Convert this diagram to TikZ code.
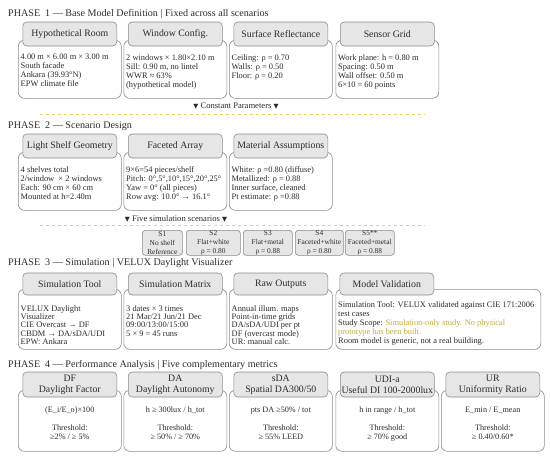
\documentclass[tikz,border=0pt]{standalone}
\usepackage{fontspec}
\usepackage{xcolor}
\setmainfont{Liberation Serif}
\newfontfamily\symfont{DejaVu Sans}
\definecolor{framegray}{HTML}{8A8A8A}
\definecolor{headgray}{HTML}{E6E6E6}
\definecolor{inkgray}{HTML}{2B2B2B}
\definecolor{scopegold}{HTML}{C2AE3A}
\definecolor{dashyellow}{HTML}{E8D46A}
\newcommand{\tri}
        {{\symfont\fontsize{6.5}{7}\selectfont ▼}}

\tikzset{
  bodybox/.style={draw=framegray, line width=0.6pt, fill=white, rounded corners=6pt, anchor=north west, minimum width=103pt, minimum height=58pt, inner sep=0pt},
  headbox/.style={draw=framegray, line width=0.6pt, fill=headgray, rounded corners=4pt, minimum width=94pt, minimum height=24pt, inner sep=0pt, align=center, text=inkgray, font=\fontsize{9.8}{11}\selectfont},
  bodytext/.style={anchor=north west, inner sep=0pt, align=left, text=inkgray, font=\fontsize{8.4}{9}\selectfont},
  metrictext/.style={anchor=north, inner sep=0pt, align=center, text=inkgray, font=\fontsize{8.2}{9}\selectfont},
  phasetitle/.style={anchor=west, inner sep=0pt, text=inkgray, font=\fontsize{10.1}{11}\selectfont},
  scenbox/.style={draw=framegray, line width=0.6pt, fill=headgray, rounded corners=3pt, anchor=north west, minimum height=25pt, inner sep=0pt, align=center, text=inkgray, font=\fontsize{7.4}{8.8}\selectfont},
  sepnote/.style={inner sep=0pt, text=inkgray, font=\fontsize{8.6}{9}\selectfont},
  sepline/.style={draw=dashyellow, dashed, line width=0.6pt},
}

\begin{document}
\begin{tikzpicture}[x=1pt, y=-1pt]
\useasboundingbox (0,0) rectangle (550,458);

\node[phasetitle] (p1) at (8,14) {PHASE\ \ 1 --- Base Model Definition | Fixed across all scenarios};
\node[bodybox] (room) at (18,40) {};
\node[headbox] (roomh) at ([yshift=6pt]room.north) {Hypothetical Room};
\node[bodytext] (roomt) at ([xshift=2.5pt,yshift=-14pt]room.north west) {4.00 m × 6.00 m × 3.00 m\\South facade\\Ankara (39.93°N)\\EPW climate file};
\node[bodybox] (window) at (123.5,40) {};
\node[headbox] (windowh) at ([yshift=6pt]window.north) {Window Config.};
\node[bodytext] (windowt) at ([xshift=2.5pt,yshift=-14pt]window.north west) {2 windows × 1.80×2.10 m\\Sill: 0.90 m, no lintel\\WWR ≈ 63\%\\(hypothetical model)};
\node[bodybox] (surface) at (229,40) {};
\node[headbox] (surfaceh) at ([yshift=6pt]surface.north) {Surface Reflectance};
\node[bodytext] (surfacet) at ([xshift=2.5pt,yshift=-14pt]surface.north west) {Ceiling: ρ = 0.70\\Walls: ρ = 0.50\\Floor: ρ = 0.20};
\node[bodybox] (sensor) at (335.5,40) {};
\node[headbox] (sensorh) at ([yshift=6pt]sensor.north) {Sensor Grid};
\node[bodytext] (sensort) at ([xshift=2.5pt,yshift=-14pt]sensor.north west) {Work plane: h = 0.80 m\\Spacing: 0.50 m\\Wall offset: 0.50 m\\6×10 = 60 points};

\node[sepnote] (constant) at (236,106) {\tri\ Constant Parameters \tri};
\coordinate (sep1l) at (40,114);
\coordinate (sep1r) at (425,114);
\draw[sepline] (sep1l) -- (sep1r);

\node[phasetitle] (p2) at (8,126) {PHASE\ \ 2 --- Scenario Design};
\node[bodybox] (shelf) at (18,152) {};
\node[headbox] (shelfh) at ([yshift=6pt]shelf.north) {Light Shelf Geometry};
\node[bodytext] (shelft) at ([xshift=2.5pt,yshift=-14pt]shelf.north west) {4 shelves total\\2/window \ × 2 windows\\Each: 90 cm × 60 cm\\Mounted at h=2.40m};
\node[bodybox] (facet) at (123.5,152) {};
\node[headbox] (faceth) at ([yshift=6pt]facet.north) {Faceted Array};
\node[bodytext] (facett) at ([xshift=2.5pt,yshift=-14pt]facet.north west) {9×6=54 pieces/shelf\\Pitch: 0°,5°,10°,15°,20°,25°\\Yaw = 0° (all pieces)\\Row avg: 10.0° → 16.1°};
\node[bodybox] (material) at (229,152) {};
\node[headbox] (materialh) at ([yshift=6pt]material.north) {Material Assumptions};
\node[bodytext] (materialt) at ([xshift=2.5pt,yshift=-14pt]material.north west) {White: ρ =0.80 (diffuse)\\Metallized: ρ = 0.88\\Inner surface, cleaned\\Pt estimate: ρ =0.88};

\node[sepnote] (five) at (176,219) {\tri\ Five simulation scenarios \tri};
\coordinate (sep2l) at (40,225);
\coordinate (sep2r) at (425,225);
\draw[sepline] (sep2l) -- (sep2r);

\node[scenbox, minimum width=40pt] (scen1) at (142,230) {S1\\No shelf\\Reference};
\node[scenbox, minimum width=54pt] (scen2) at (186,230) {S2\\Flat+white\\ρ = 0.80};
\node[scenbox, minimum width=49pt] (scen3) at (243,230) {S3\\Flat+metal\\ρ = 0.88};
\node[scenbox, minimum width=48pt] (scen4) at (295,230) {S4\\Faceted+white\\ρ = 0.80};
\node[scenbox, minimum width=49pt] (scen5) at (345,230) {S5**\\Faceted+metal\\ρ = 0.88};

\node[phasetitle] (p3) at (8,263) {PHASE\ \ 3 --- Simulation | VELUX Daylight Visualizer};
\node[bodybox, minimum height=60pt] (simtool) at (18,289) {};
\node[headbox, minimum height=22pt] (simtoolh) at ([yshift=5pt]simtool.north) {Simulation Tool};
\node[bodytext, font=\fontsize{8.4}{8.4}\selectfont] (simtoolt) at ([xshift=2.5pt,yshift=-16pt]simtool.north west) {VELUX Daylight\\Visualizer\\CIE Overcast → DF\\CBDM → DA/sDA/UDI\\EPW: Ankara};
\node[bodybox, minimum height=60pt] (simmatrix) at (123.5,289) {};
\node[headbox, minimum height=22pt] (simmatrixh) at ([yshift=5pt]simmatrix.north) {Simulation Matrix};
\node[bodytext, font=\fontsize{8.4}{8.4}\selectfont] (simmatrixt) at ([xshift=2.5pt,yshift=-16pt]simmatrix.north west) {3 dates × 3 times\\21 Mar/21 Jun/21 Dec\\09:00/13:00/15:00\\5 × 9 = 45 runs};
\node[bodybox, minimum height=60pt] (rawout) at (229,289) {};
\node[headbox, minimum height=22pt] (rawouth) at ([yshift=5pt]rawout.north) {Raw Outputs};
\node[bodytext, font=\fontsize{8.4}{8.4}\selectfont] (rawoutt) at ([xshift=2.5pt,yshift=-16pt]rawout.north west) {Annual illum. maps\\Point-in-time grids\\DA/sDA/UDI per pt\\DF (overcast mode)\\UR: manual calc.};
\node[bodybox, minimum height=60pt, minimum width=205pt] (valid) at (335.5,289) {};
\node[headbox, minimum height=22pt] (validh) at ([xshift=-51.5pt,yshift=5pt]valid.north) {Model Validation};
\node[bodytext] (validt) at ([xshift=2.5pt,yshift=-12pt]valid.north west) {Simulation Tool: VELUX validated against CIE 171:2006\\test cases\\Study Scope: \textcolor{scopegold}{Simulation-only study. No physical}\\\textcolor{scopegold}{prototype has been built.}\\Room model is generic, not a real building.};

\node[phasetitle] (p4) at (8,365) {PHASE\ \ 4 --- Performance Analysis | Five complementary metrics};
\node[bodybox, minimum height=61pt] (df) at (18,390) {};
\node[headbox, minimum height=25pt] (dfh) at ([yshift=5.5pt]df.north) {DF\\Daylight Factor};
\node[metrictext] (dft) at ([yshift=-17pt]df.north) {(E\_i/E\_o)×100\\[9pt]Threshold:\\≥2\% / ≥ 5\%};
\node[bodybox, minimum height=61pt] (da) at (123.5,390) {};
\node[headbox, minimum height=25pt] (dah) at ([yshift=5.5pt]da.north) {DA\\Daylight Autonomy};
\node[metrictext] (dat) at ([yshift=-17pt]da.north) {h ≥ 300lux / h\_tot\\[9pt]Threshold:\\≥ 50\% / ≥ 70\%};
\node[bodybox, minimum height=61pt] (sda) at (229,390) {};
\node[headbox, minimum height=25pt] (sdah) at ([yshift=5.5pt]sda.north) {sDA\\Spatial DA300/50};
\node[metrictext] (sdat) at ([yshift=-17pt]sda.north) {pts DA ≥50\% / tot\\[9pt]Threshold:\\≥ 55\% LEED};
\node[bodybox, minimum height=61pt] (udi) at (335.5,390) {};
\node[headbox, minimum height=25pt] (udih) at ([yshift=5.5pt]udi.north) {UDI-a\\Useful DI 100-2000lux};
\node[metrictext] (udit) at ([yshift=-17pt]udi.north) {h in range / h\_tot\\[9pt]Threshold:\\≥ 70\% good};
\node[bodybox, minimum height=61pt] (ur) at (441,390) {};
\node[headbox, minimum height=25pt] (urh) at ([yshift=5.5pt]ur.north) {UR\\Uniformity Ratio};
\node[metrictext] (urt) at ([yshift=-17pt]ur.north) {E\_min / E\_mean\\[9pt]Threshold:\\≥ 0.40/0.60*};
\end{tikzpicture}
\end{document}
